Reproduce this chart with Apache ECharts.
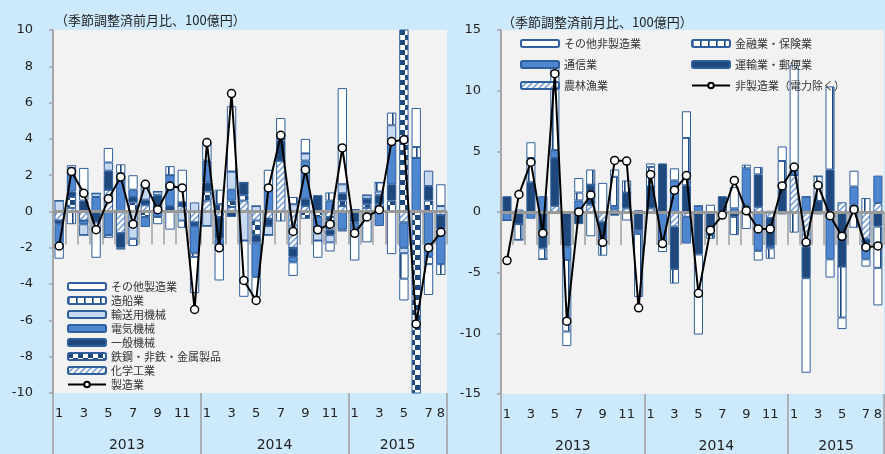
<!DOCTYPE html>
<html>
<head>
<meta charset="UTF-8">
<title>mfg_nonmfg</title>
<script src="https://cdn.jsdelivr.net/npm/echarts@6/dist/echarts.min.js"></script>
<style>
  html, body { margin: 0; padding: 0; background: #cdeafc; }
  #main { width: 885px; height: 454px; }
</style>
</head>
<body>
<div id="main"></div>
<script>
// months 2013-1 .. 2015-8
var years = ['2013', '2014', '2015'];
var monthsPerYear = [12, 12, 8];
var months = [];
years.forEach(function (y, k) {
  for (var m = 1; m <= monthsPerYear[k]; m++) months.push(y + '-' + m);
});

// 製造業 (left), 100億円
var chem   = [-0.5,0.2,-0.5,0,1.2,-1.2,0,0.35,0,0,0.3,-0.6, 0.6,-0.3,0.25,0.6,-0.5,-0.4,2.8,-2.0,0.3,0,-0.3,0.3, 0.1,0.2,0.1,0,-0.6,0,0,-0.2];
var steel  = [0,0.6,0,0,0,0,0.5,-0.3,0,0,0,0, 0.5,0.4,0.35,0.3,-0.8,0,0,0,-0.4,-0.3,-0.7,0.3, 0,0.2,0.3,0.6,12,-12,0.6,0];
var genMac = [-0.2,0.3,0.6,-0.6,1.05,-0.8,0.3,0.3,0.9,0.3,0.2,-0.2, 0.5,-1.2,-0.3,0.7,-0.4,-0.4,1.1,-0.5,0.4,0.9,-0.3,0.4, -0.6,0.3,0.5,0.9,0,0,0.8,-0.8];
var elec   = [-1.0,1.1,-0.2,0.8,-1.3,2.0,0.4,-0.55,-0.3,1.7,0,-1.5, 1.2,-0.6,0.6,0,-1.9,1.4,0.1,-0.3,2.1,-0.9,0.6,-1.0, -0.3,0,-0.8,2.3,-1.4,2.95,-2.5,-1.9];
var transp = [0.6,0.2,-0.6,0.2,0.45,0.1,-1.5,0.8,0.2,0,-0.5,0.5, -0.8,0,1.0,-1.6,0.3,-0.5,0,0.4,0.4,-0.4,-0.4,0.5, -0.2,0.2,0.2,0.95,-0.3,0,0.85,0.3];
var ship   = [0,-0.7,0,0,-0.15,0.5,-0.4,0,0,0.5,-0.4,-0.2, 0,0.8,0,0,0,0,-0.55,0.4,0,0,0.45,-0.1, 0,0,0.5,0.7,-1.4,0.6,-0.4,-0.6];
var othMfg = [-0.9,0.15,1.8,-1.95,0.8,-0.1,0.8,0,-0.4,-1.0,1.8,-2.0, 1.0,-1.7,3.6,-3.1,-1.1,0.9,1.15,-0.75,0.8,-0.95,-0.5,5.3, -1.6,-1.7,0,-2.35,-1.2,2.15,-1.7,1.2];
var mfg    = [-1.9,2.2,1.0,-1.0,0.7,1.9,-0.7,1.5,0.1,1.4,1.3,-5.4, 3.8,-2.0,6.5,-3.8,-4.9,1.3,4.2,-1.1,2.3,-1.0,-0.7,3.5, -1.2,-0.3,0.1,3.85,3.95,-6.2,-2.0,-1.15];

// 非製造業 (right)
var agri   = [0,0.2,0,0,0.5,0,0,0.6,-0.8,0.2,0.3,0, 0.3,0,-1.2,-0.4,0,0,0,0,0,0.4,-0.5,0, 3.05,-2.85,-0.2,0,0.8,0,-2.2,0.75];
var post   = [1.3,-1.0,2.45,-3.0,3.95,-2.85,-1.0,1.65,-1.3,-0.3,1.3,-1.5, 1.8,4.0,-3.5,2.2,-3.5,-1.7,1.3,-0.4,0.6,2.7,-2.3,1.9, 0,-2.6,0.9,3.5,-4.5,0.6,-0.4,-1.2];
var telco  = [-0.7,0,-0.55,1.3,0.65,-1.1,0.95,0,0,0.3,0,-0.3, 0,-2.2,2.6,-2.2,0.5,-0.2,-0.1,0.3,3.0,-3.2,-0.2,-0.2, 0.45,1.25,0,-3.9,0,1.5,-1.3,2.25];
var finance= [0,-1.3,2.0,-0.9,5.4,-5.9,0.65,1.25,-1.5,2.4,1.0,-5.2, 1.6,0,-1.2,3.9,0,-0.3,0,-1.5,0.3,0.6,-0.85,2.3, -1.7,0,2.05,6.85,-4.2,-1.3,1.15,-3.4];
var othNon = [0,0,1.3,0,1.8,-1.2,1.2,-2.0,2.4,0.6,-0.7,0.15, 0.3,-1.1,1.0,2.2,-6.6,0.6,0,1.75,-1.4,-0.8,0.1,1.2, 8.6,-7.8,0,-1.5,-0.95,1.3,-0.6,-3.1];
var nonMfg = [-4.0,1.45,4.1,-1.75,11.4,-9.0,0.0,1.4,-2.5,4.25,4.2,-7.9, 3.1,-2.6,1.8,3.0,-6.7,-1.5,-0.25,2.6,0.1,-1.4,-1.4,2.15, 3.7,-2.5,2.2,-0.3,-2.0,0.2,-2.9,-2.8];

var NAVY = '#1f497d', MID = '#4f86d0', LIGHT = '#c6d9f1', EDGE = '#2f5f9c';

function pattern(kind) {
  var c = document.createElement('canvas');
  var g = c.getContext('2d');
  if (kind === 'hatch') {
    c.width = 6; c.height = 6;
    g.fillStyle = '#fff'; g.fillRect(0, 0, 6, 6);
    g.strokeStyle = '#7ea3d4'; g.lineWidth = 1.6;
    g.beginPath();
    g.moveTo(-1, 7); g.lineTo(7, -1);
    g.moveTo(-1, 1); g.lineTo(1, -1);
    g.moveTo(5, 7); g.lineTo(7, 5);
    g.stroke();
  } else if (kind === 'stripe') {
    c.width = 8; c.height = 2;
    g.fillStyle = '#fff'; g.fillRect(0, 0, 8, 2);
    g.fillStyle = NAVY; g.fillRect(0, 0, 1.6, 2);
  } else {
    c.width = 10; c.height = 10;
    g.fillStyle = '#fff'; g.fillRect(0, 0, 10, 10);
    g.fillStyle = NAVY; g.fillRect(0, 0, 5, 5); g.fillRect(5, 5, 5, 5);
  }
  return { image: c, repeat: 'repeat' };
}

var FONT = 'DejaVu Sans';
var JP = 'Noto Sans CJK JP';

function yAxisFor(grid, lim, step) {
  return {
    type: 'value', gridIndex: grid, min: -lim, max: lim, interval: step,
    axisLine: { show: true, lineStyle: { color: '#a6a6a6', width: 2 } },
    axisTick: { show: true, length: 4, lineStyle: { color: '#a6a6a6', width: 1.5 } },
    axisLabel: { fontFamily: FONT, fontSize: 13, color: '#222', margin: 20 },
    splitLine: { show: false }
  };
}

function monthAxis(grid) {
  return {
    type: 'category', gridIndex: grid, data: months, position: 'bottom',
    axisLine: { show: false },
    axisTick: { show: true, interval: 0, length: 33, lineStyle: { color: '#a0a0a0', width: 1.5 } },
    axisLabel: {
      interval: 0, fontFamily: FONT, fontSize: 13, color: '#222', margin: 14,
      formatter: function (v, i) {
        var m = +v.split('-')[1];
        return (m % 2 === 1 || i === months.length - 1) ? String(m) : '';
      }
    }
  };
}

function yearAxis(grid) {
  return {
    type: 'category', gridIndex: grid, data: months, position: 'bottom',
    axisLine: { show: false },
    axisTick: { show: true, length: 61, interval: function (i) { return i % 12 === 0; },
                lineStyle: { color: '#a0a0a0', width: 1.5 } },
    axisLabel: {
      interval: 0, fontFamily: FONT, fontSize: 14, color: '#222', margin: 45,
      padding: [0, 0, 0, 12],
      formatter: function (v, i) {
        return i === 5 ? '2013' : i === 17 ? '2014' : i === 27 ? '2015' : '';
      }
    }
  };
}

function barSeries(name, data, fill, xi, yi, stack) {
  return {
    name: name, type: 'bar', stack: stack, data: data,
    xAxisIndex: xi, yAxisIndex: yi, barCategoryGap: '24%',
    itemStyle: { color: fill, borderColor: EDGE, borderWidth: 1 },
    emphasis: { disabled: true }
  };
}

function lineSeries(name, data, xi, yi) {
  return {
    name: name, type: 'line', data: data, xAxisIndex: xi, yAxisIndex: yi, z: 5,
    symbol: 'circle', symbolSize: 8, showAllSymbol: true,
    lineStyle: { color: '#000', width: 2 },
    itemStyle: { color: '#fff', borderColor: '#000', borderWidth: 1.5 },
    emphasis: { disabled: true }
  };
}

var zeroLine = {
  silent: true, symbol: 'none', label: { show: false },
  lineStyle: { color: '#999', width: 3, type: 'solid' },
  data: [{ yAxis: 0 }]
};

var HATCH = pattern('hatch'), STRIPE = pattern('stripe'), CHECK = pattern('check');

var series = [
  barSeries('化学工業', chem, HATCH, 0, 0, 'L'),
  barSeries('鉄鋼・非鉄・金属製品', steel, CHECK, 0, 0, 'L'),
  barSeries('一般機械', genMac, NAVY, 0, 0, 'L'),
  barSeries('電気機械', elec, MID, 0, 0, 'L'),
  barSeries('輸送用機械', transp, LIGHT, 0, 0, 'L'),
  barSeries('造船業', ship, STRIPE, 0, 0, 'L'),
  barSeries('その他製造業', othMfg, '#fff', 0, 0, 'L'),
  lineSeries('製造業', mfg, 0, 0),
  barSeries('農林漁業', agri, HATCH, 2, 1, 'R'),
  barSeries('運輸業・郵便業', post, NAVY, 2, 1, 'R'),
  barSeries('通信業', telco, MID, 2, 1, 'R'),
  barSeries('金融業・保険業', finance, STRIPE, 2, 1, 'R'),
  barSeries('その他非製造業', othNon, '#fff', 2, 1, 'R'),
  lineSeries('非製造業（電力除く）', nonMfg, 2, 1)
];
series[6].markLine = zeroLine;
series[12].markLine = zeroLine;

var legendText = { fontFamily: JP, fontSize: 11, color: '#333' };

var myChart = echarts.init(document.getElementById('main'));
myChart.setOption({
  backgroundColor: '#cdeafc',
  animation: false,
  title: [
    { text: '（季節調整済前月比、100億円）', left: 50, top: 9,
      textStyle: { fontFamily: JP, fontSize: 13, fontWeight: 'normal', color: '#222' } },
    { text: '（季節調整済前月比、100億円）', left: 497, top: 11,
      textStyle: { fontFamily: JP, fontSize: 13, fontWeight: 'normal', color: '#222' } }
  ],
  legend: [
    { orient: 'vertical', left: 62, top: 276, itemWidth: 38, itemHeight: 7, itemGap: 3,
      textStyle: legendText,
      data: ['その他製造業', '造船業', '輸送用機械', '電気機械', '一般機械', '鉄鋼・非鉄・金属製品', '化学工業', '製造業'] },
    { orient: 'vertical', left: 515, top: 33, itemWidth: 38, itemHeight: 7, itemGap: 10,
      textStyle: legendText,
      data: ['その他非製造業', '通信業', '農林漁業'] },
    { orient: 'vertical', left: 686, top: 33, itemWidth: 38, itemHeight: 7, itemGap: 10,
      textStyle: legendText,
      data: ['金融業・保険業', '運輸業・郵便業', '非製造業（電力除く）'] }
  ],
  grid: [
    { left: 53, top: 30, width: 394, height: 363, show: true, backgroundColor: '#f2f2f2', borderWidth: 0 },
    { left: 501, top: 30, width: 386, height: 364, show: true, backgroundColor: '#f2f2f2', borderWidth: 0 }
  ],
  xAxis: [monthAxis(0), yearAxis(0), monthAxis(1), yearAxis(1)],
  yAxis: [yAxisFor(0, 10, 2), yAxisFor(1, 15, 5)],
  series: series
});
</script>
</body>
</html>
